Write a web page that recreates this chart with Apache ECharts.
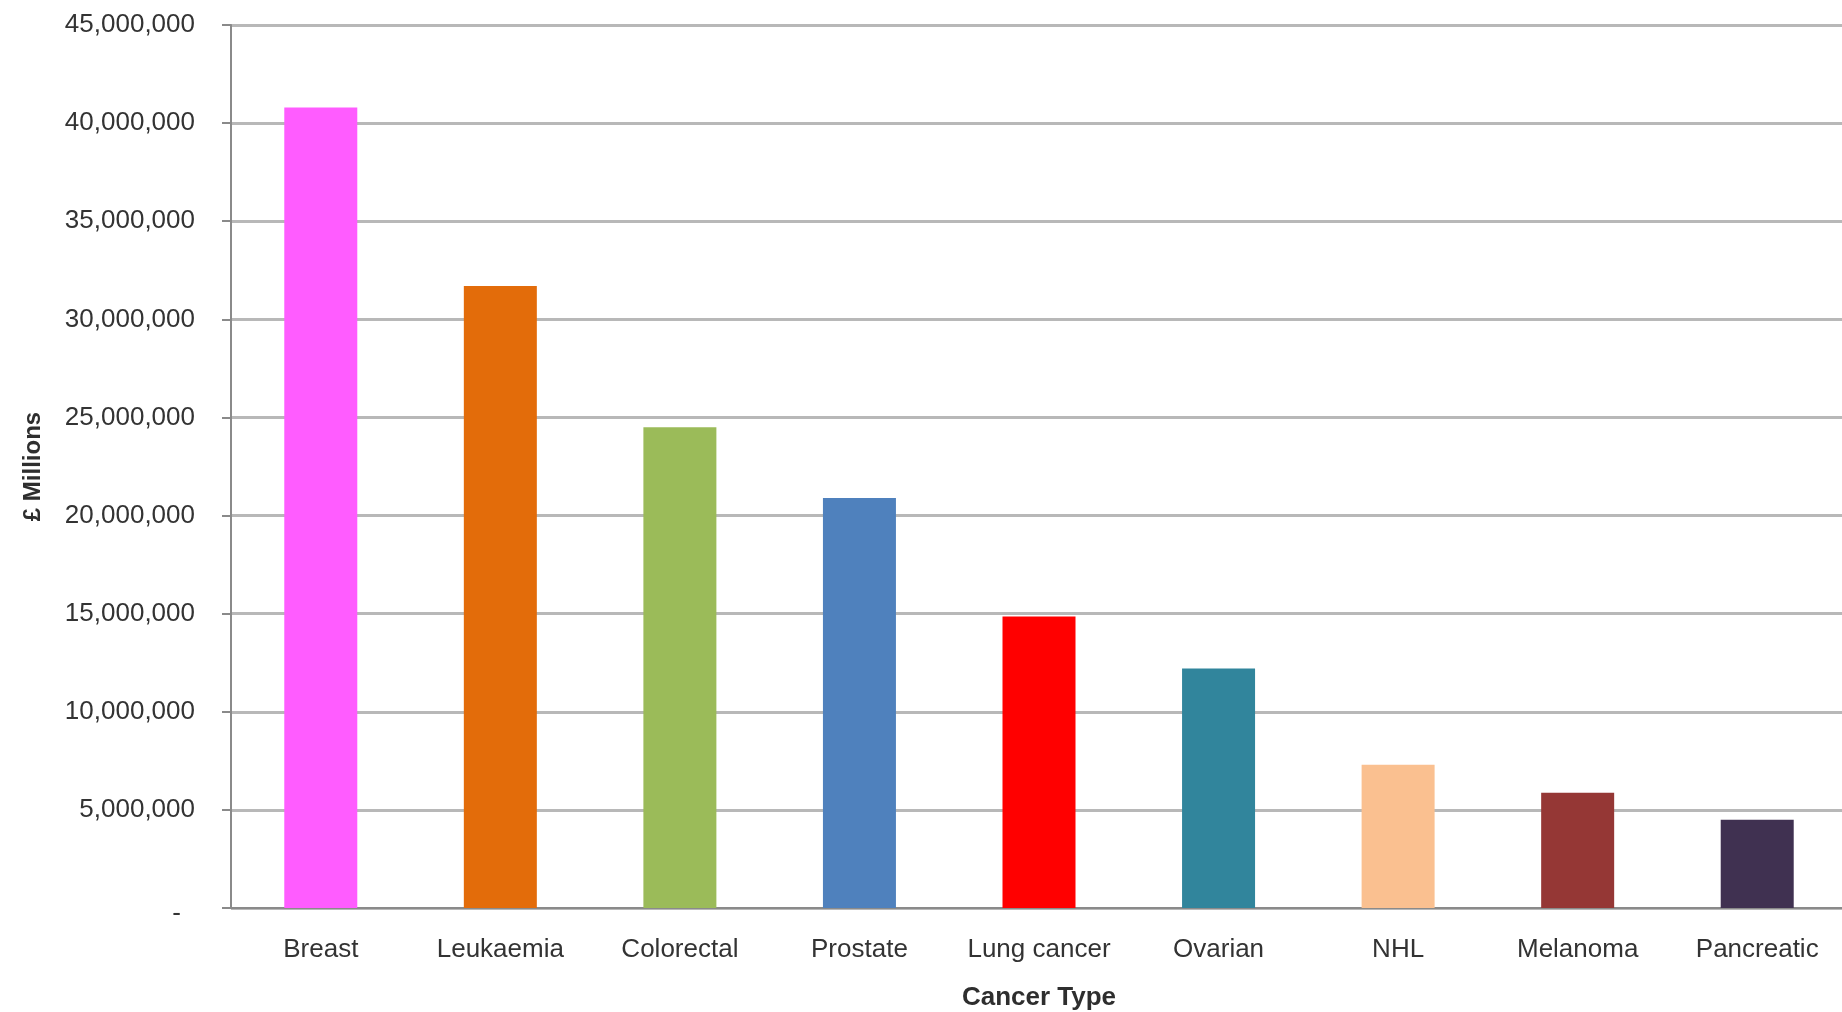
<!DOCTYPE html>
<html>
<head>
<meta charset="utf-8">
<title>Cancer Type</title>
<script src="https://cdn.jsdelivr.net/npm/echarts@6/dist/echarts.min.js"></script>
<style>
  html,body{margin:0;padding:0;background:#fff;}
  .chart{width:1842px;height:1012px;}
</style>
</head>
<body>
<div class="chart"></div>
<script>
// data
var categories = ['Breast', 'Leukaemia', 'Colorectal', 'Prostate', 'Lung cancer', 'Ovarian', 'NHL', 'Melanoma', 'Pancreatic'];
var values = [40800000, 31700000, 24500000, 20900000, 14850000, 12200000, 7300000, 5870000, 4500000];
var barColors = ['#ff5cff', '#e36c0a', '#9bbb59', '#4f81bd', '#ff0000', '#31859c', '#fac090', '#953735', '#403151'];
var yTicks = [0, 5000000, 45000000]; // min, step, max

(function () {
  var myChart = echarts.init(document.querySelector('.chart'));
  var font = "'Liberation Sans', Arial, sans-serif";
  option = {
    backgroundColor: '#fff',
    animation: false,
    grid: {
      left: 231,
      right: -5,
      top: 25,
      bottom: 104,
      outerBoundsMode: 'none' // keep the plot box fixed
    },
    xAxis: {
      type: 'category',
      data: categories,
      name: 'Cancer Type',
      nameLocation: 'middle',
      nameGap: 77,
      nameTextStyle: {
        fontFamily: font,
        fontSize: 26,
        fontWeight: 'bold',
        color: '#2e2e2e'
      },
      axisLine: {
        lineStyle: { color: '#8a8a8a', width: 2 }
      },
      axisTick: {
        length: 10,
        lineStyle: { color: '#8a8a8a', width: 2 }
      },
      axisLabel: {
        margin: 29,
        fontFamily: font,
        fontSize: 26,
        color: '#333',
        interval: 0
      }
    },
    yAxis: {
      type: 'value',
      min: yTicks[0],
      interval: yTicks[1],
      max: yTicks[2],
      name: '£ Millions',
      nameLocation: 'middle',
      nameGap: 186,
      nameTextStyle: {
        fontFamily: font,
        fontSize: 24,
        fontWeight: 'bold',
        color: '#2e2e2e'
      },
      axisLine: {
        show: true,
        lineStyle: { color: '#8a8a8a', width: 2 }
      },
      axisTick: {
        show: true,
        length: 9,
        lineStyle: { color: '#8a8a8a', width: 2 }
      },
      axisLabel: {
        margin: 36,
        fontFamily: font,
        fontSize: 26,
        color: '#333',
        formatter: function (v) {
          if (v === 0) return '{z|-}';
          return v.toLocaleString('en-US');
        },
        rich: {
          z: { fontFamily: font, fontSize: 26, color: '#333', padding: [12, 14, 0, 0] }
        }
      },
      splitLine: {
        lineStyle: { color: '#b8b8b8', width: 3 }
      }
    },
    series: [
      {
        type: 'bar',
        data: values,
        barWidth: 73,
        itemStyle: {
          color: function (params) {
            return barColors[params.dataIndex];
          }
        }
      }
    ]
  };
  myChart.setOption(option);
  window.addEventListener('resize', function () {
    myChart.resize();
  });
})();
</script>
</body>
</html>
